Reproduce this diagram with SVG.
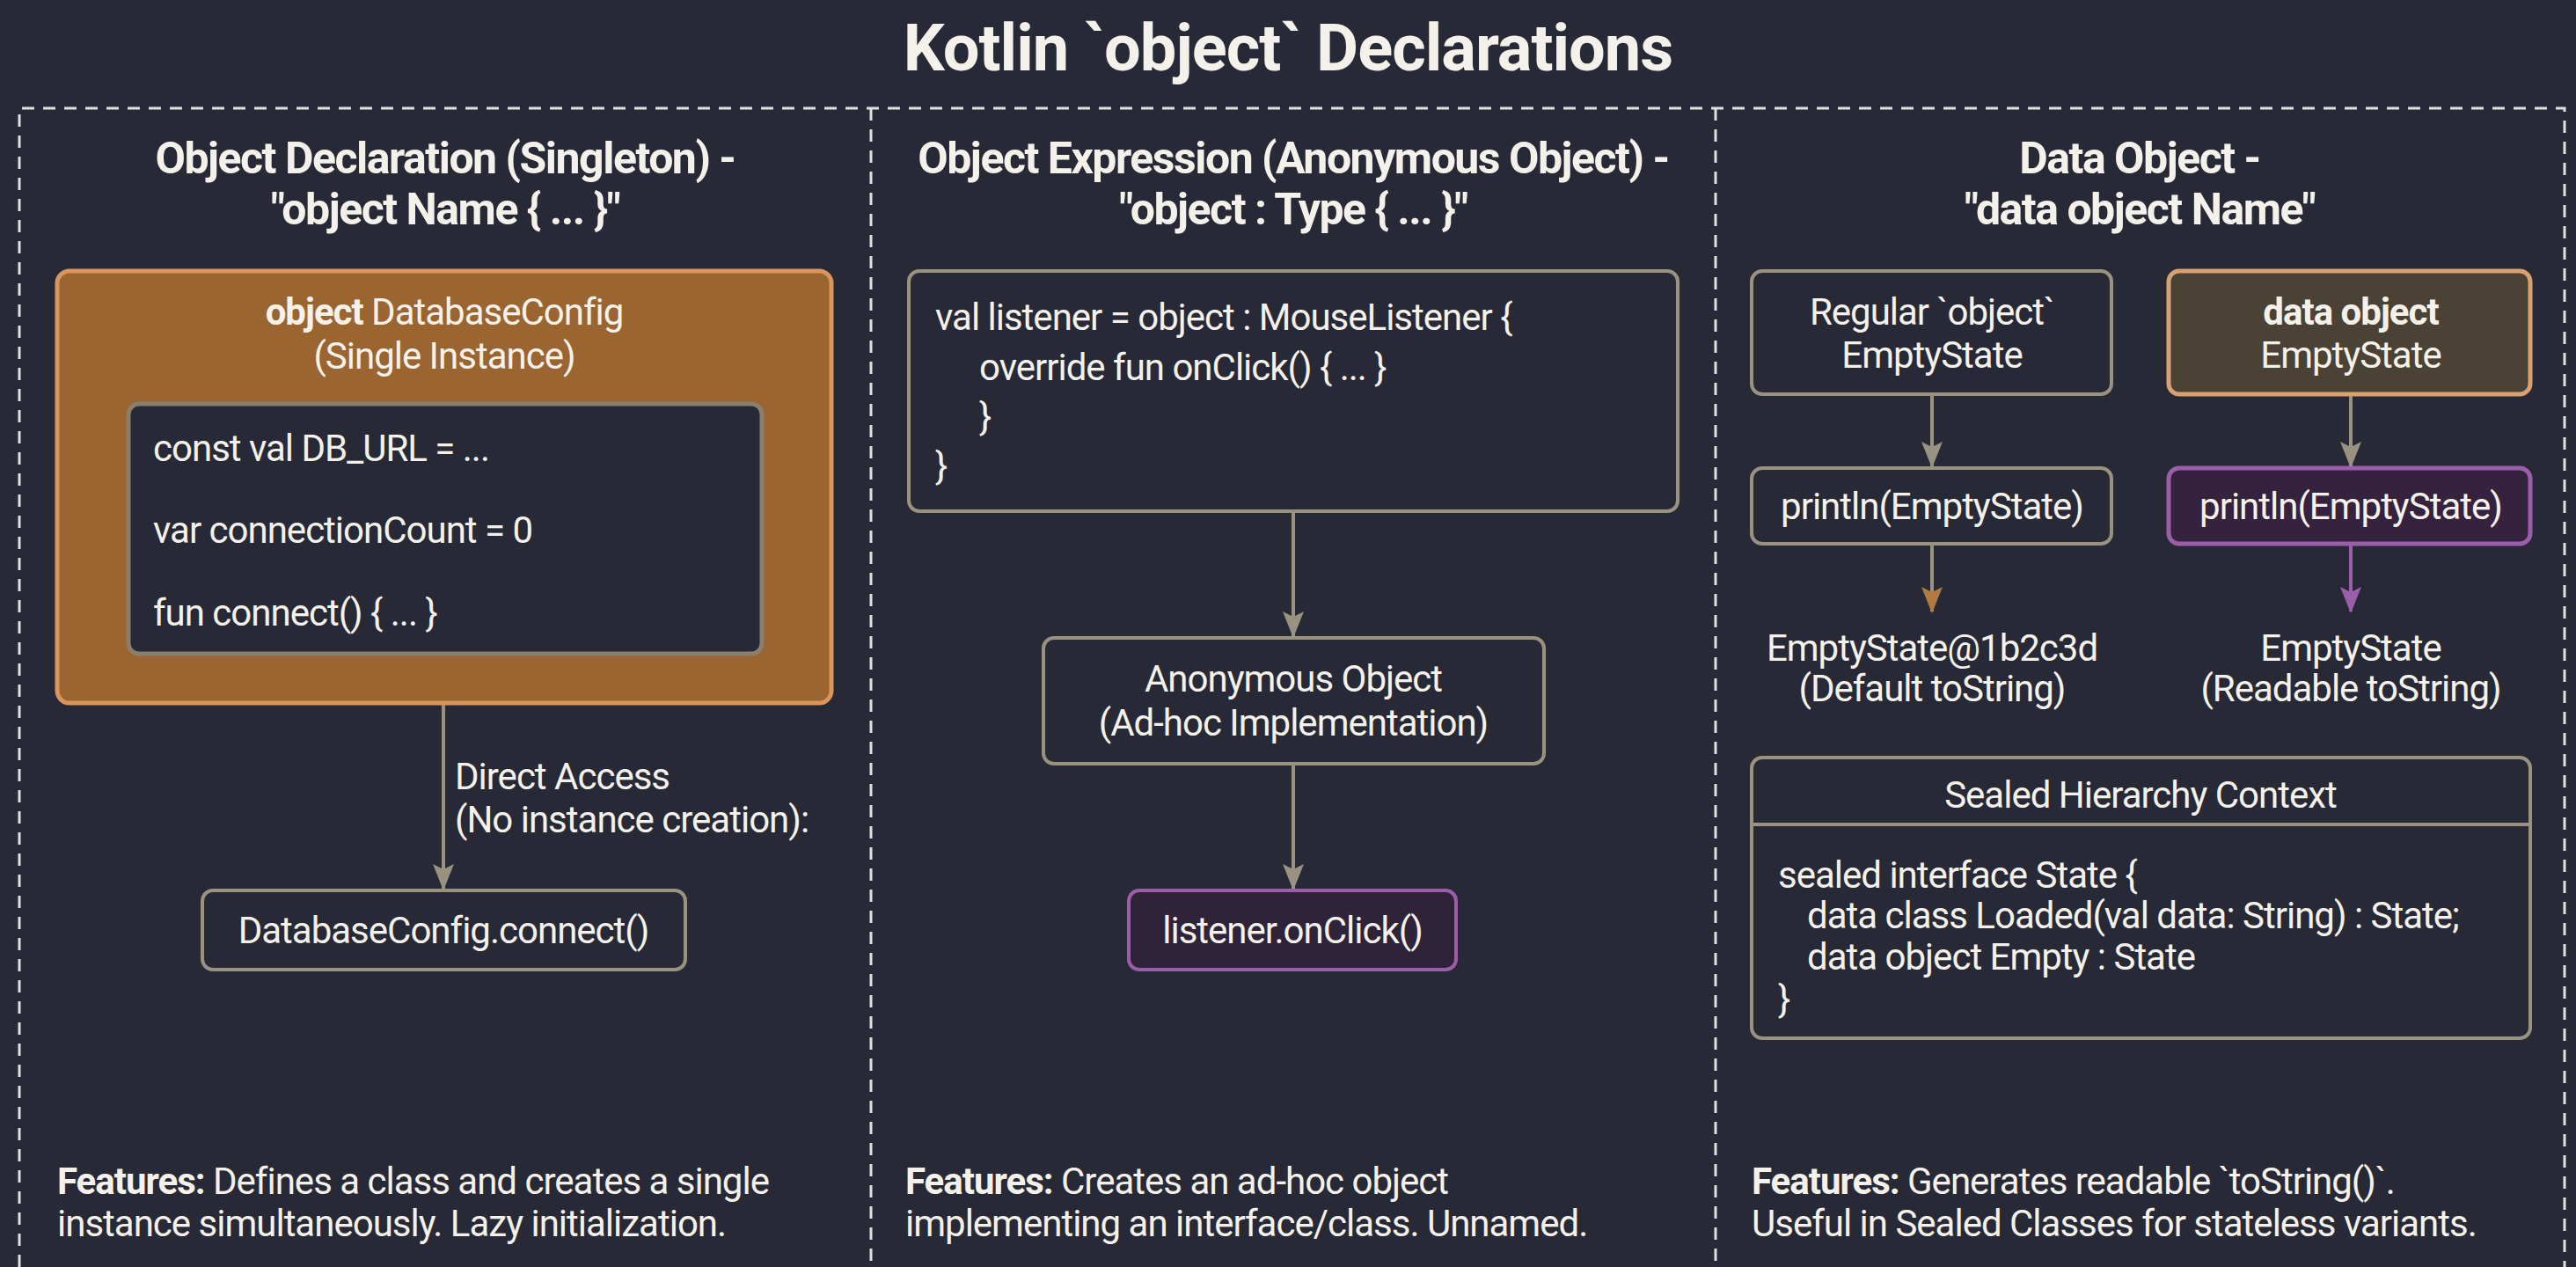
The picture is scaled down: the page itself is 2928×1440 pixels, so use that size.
<svg xmlns="http://www.w3.org/2000/svg" width="2928" height="1440" viewBox="0 0 2928 1440">
<defs>
<style>
text{font-family:"Liberation Sans Narrow","Roboto","Liberation Sans",sans-serif;fill:#f4f1ea;font-size:42px;letter-spacing:-1px}
.c{text-anchor:middle}
.b{font-weight:bold}
.h{font-size:50px;font-weight:bold;text-anchor:middle;letter-spacing:-1.5px}
.box{fill:#272a36;stroke:#9a9280;stroke-width:4}
.edge{stroke:#9a9280;stroke-width:4;fill:none}
.div{stroke:#e0e0e0;stroke-width:3;stroke-dasharray:14 10;fill:none}
</style>
<marker id="ao" markerWidth="30" markerHeight="30" refX="28" refY="12" orient="auto" markerUnits="userSpaceOnUse" viewBox="0 0 30 24"><path d="M0,0 L30,12 L0,24 L6,12 Z" fill="#b07a40"/></marker>
<marker id="ap" markerWidth="30" markerHeight="30" refX="28" refY="12" orient="auto" markerUnits="userSpaceOnUse" viewBox="0 0 30 24"><path d="M0,0 L30,12 L0,24 L6,12 Z" fill="#9a5fa8"/></marker>
<marker id="a" markerWidth="30" markerHeight="30" refX="28" refY="12" orient="auto" markerUnits="userSpaceOnUse" viewBox="0 0 30 24"><path d="M0,0 L30,12 L0,24 L6,12 Z" fill="#9a9280"/></marker>
</defs>
<rect width="2928" height="1440" fill="#272a36"/>
<text x="1464" y="80" class="c b" style="font-size:74px;letter-spacing:-1px">Kotlin `object` Declarations</text>
<path class="div" d="M22,1440 V123 H2915 V1440"/>
<path class="div" d="M990,123 V1440 M1950,123 V1440"/>

<text x="506" y="197" class="h">Object Declaration (Singleton) -</text>
<text x="506" y="255" class="h">"object Name { ... }"</text>
<text x="1470" y="197" class="h">Object Expression (Anonymous Object) -</text>
<text x="1470" y="255" class="h">"object : Type { ... }"</text>
<text x="2432" y="197" class="h">Data Object -</text>
<text x="2432" y="255" class="h">"data object Name"</text>

<g id="connectors">
<path class="edge" d="M504,799 V1010" marker-end="url(#a)"/>
<path class="edge" d="M1470,581 V723" marker-end="url(#a)"/>
<path class="edge" d="M1470,868 V1010" marker-end="url(#a)"/>
<path class="edge" d="M2196,448 V530" marker-end="url(#a)"/>
<path class="edge" d="M2672,448 V530" marker-end="url(#a)"/>
<path class="edge" d="M2196,618 V695" marker-end="url(#ao)"/>
<path class="edge" d="M2672,618 V695" style="stroke:#9a5fa8" marker-end="url(#ap)"/>
<text x="517" y="897">Direct Access</text>
<text x="517" y="946">(No instance creation):</text>
</g>

<g id="dbconfig">
<rect x="65" y="308" width="880" height="491" rx="14" fill="#9a6530" stroke="#d9955a" stroke-width="5"/>
<text x="505" y="369" class="c"><tspan class="b">object</tspan> DatabaseConfig</text>
<text x="505" y="419" class="c">(Single Instance)</text>
<rect x="146" y="459" width="720" height="284" rx="12" fill="#272a36" stroke="#8a7f6a" stroke-width="5"/>
<text x="174" y="524">const val DB_URL = ...</text>
<text x="174" y="617">var connectionCount = 0</text>
<text x="174" y="711">fun connect() { ... }</text>
</g>
<g id="connect">
<rect class="box" x="230" y="1012" width="549" height="90" rx="12"/>
<text x="504" y="1072" class="c">DatabaseConfig.connect()</text>
</g>

<g id="listenercode">
<rect class="box" x="1033" y="308" width="874" height="273" rx="12"/>
<text x="1063" y="375">val listener = object : MouseListener {</text>
<text x="1113" y="432">override fun onClick() { ... }</text>
<text x="1113" y="488">}</text>
<text x="1063" y="544">}</text>
</g>
<g id="anon">
<rect class="box" x="1186" y="725" width="569" height="143" rx="12"/>
<text x="1470" y="786" class="c">Anonymous Object</text>
<text x="1470" y="836" class="c">(Ad-hoc Implementation)</text>
</g>
<g id="onclick">
<rect x="1283" y="1012" width="372" height="90" rx="12" fill="#2e2338" stroke="#9a5fa8" stroke-width="4"/>
<text x="1469" y="1072" class="c">listener.onClick()</text>
</g>

<g id="regular">
<rect class="box" x="1991" y="308" width="409" height="140" rx="12"/>
<text x="2196" y="369" class="c">Regular `object`</text>
<text x="2196" y="418" class="c">EmptyState</text>
</g>
<g id="dataobj">
<rect x="2465" y="308" width="411" height="140" rx="12" fill="#4a4235" stroke="#d9a070" stroke-width="5"/>
<text x="2672" y="369" class="c b">data object</text>
<text x="2672" y="418" class="c">EmptyState</text>
</g>
<g id="println1">
<rect class="box" x="1991" y="532" width="409" height="86" rx="12"/>
<text x="2196" y="590" class="c">println(EmptyState)</text>
</g>
<g id="println2">
<rect x="2465" y="532" width="411" height="86" rx="12" fill="#35223f" stroke="#9a5fa8" stroke-width="5"/>
<text x="2672" y="590" class="c">println(EmptyState)</text>
</g>
<g id="out1">
<text x="2196" y="751" class="c">EmptyState@1b2c3d</text>
<text x="2196" y="797" class="c">(Default toString)</text>
</g>
<g id="out2">
<text x="2672" y="751" class="c">EmptyState</text>
<text x="2672" y="797" class="c">(Readable toString)</text>
</g>
<g id="sealed">
<rect class="box" x="1991" y="861" width="885" height="319" rx="12"/>
<path d="M1991,937 H2876" stroke="#9a9280" stroke-width="4"/>
<text x="2433" y="918" class="c">Sealed Hierarchy Context</text>
<text x="2021" y="1009">sealed interface State {</text>
<text x="2054" y="1055">data class Loaded(val data: String) : State;</text>
<text x="2054" y="1102">data object Empty : State</text>
<text x="2021" y="1150">}</text>
</g>

<text x="65" y="1357"><tspan class="b">Features:</tspan> Defines a class and creates a single</text>
<text x="65" y="1405">instance simultaneously. Lazy initialization.</text>
<text x="1029" y="1357"><tspan class="b">Features:</tspan> Creates an ad-hoc object</text>
<text x="1029" y="1405">implementing an interface/class. Unnamed.</text>
<text x="1991" y="1357"><tspan class="b">Features:</tspan> Generates readable `toString()`.</text>
<text x="1991" y="1405">Useful in Sealed Classes for stateless variants.</text>
</svg>
